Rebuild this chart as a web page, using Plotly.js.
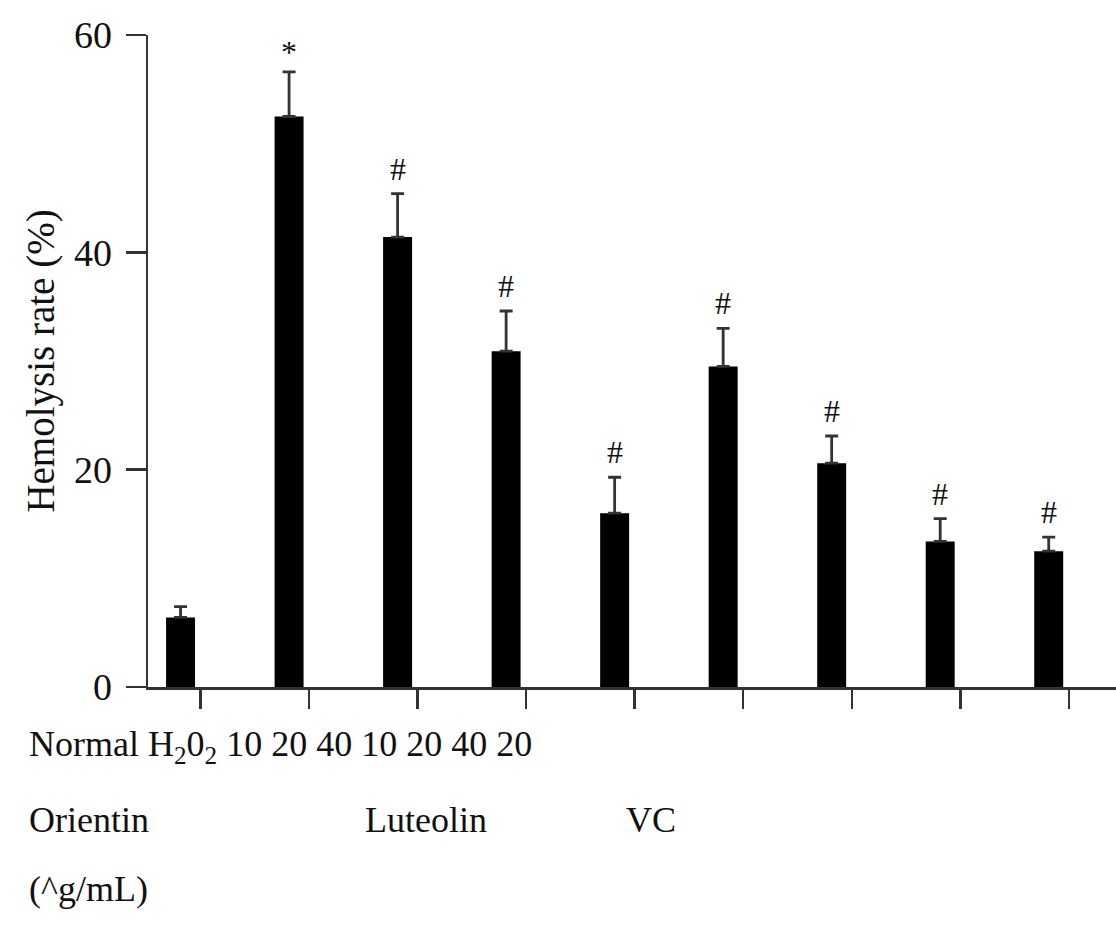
<!DOCTYPE html>
<html>
<head>
<meta charset="utf-8">
<script src="https://cdn.plot.ly/plotly-3.0.1.min.js"></script>
<style>html,body{margin:0;padding:0;background:#fff;}#chart{width:1116px;height:934px;}</style>
</head>
<body>
<div id="chart"></div>
<script>
// Data
const categories = ["Normal", "H2O2", "Orientin 10", "Orientin 20", "Orientin 40", "Luteolin 10", "Luteolin 20", "Luteolin 40", "VC 20"];
const hemolysis = [6.4, 52.5, 41.4, 30.9, 16.0, 29.5, 20.6, 13.4, 12.5];
const errorUpper = [1.0, 4.1, 4.0, 3.7, 3.3, 3.5, 2.5, 2.1, 1.3];
const significance = ["", "*", "#", "#", "#", "#", "#", "#", "#"];
const yTicks = [0, 20, 40, 60];
const labelLine1 = "Normal H<sub>2</sub>0<sub>2</sub> 10 20 40 10 20 40 20";
const groupLabels = ["Orientin", "Luteolin", "VC"];
const unitLabel = "(^g/mL)";

const FONT = "Liberation Serif, Times New Roman, serif";
const AXC = "#333333";

const xIdx = categories.map((c, i) => i);
const tickOffset = 0.185;

const trace = {
  type: "bar",
  x: xIdx,
  y: hemolysis,
  text: categories,
  hoverinfo: "text+y",
  textposition: "none",
  width: 0.267,
  marker: {color: "#000000", line: {width: 0}},
  error_y: {
    type: "data",
    symmetric: false,
    array: errorUpper,
    arrayminus: errorUpper.map(() => 0),
    color: AXC,
    thickness: 2.8,
    width: 6.5
  }
};

const annotations = [];
categories.forEach((c, i) => {
  if (significance[i]) {
    annotations.push({
      x: xIdx[i], y: hemolysis[i] + errorUpper[i],
      xref: "x", yref: "y",
      text: significance[i],
      showarrow: false,
      yanchor: "bottom",
      yshift: significance[i] === "*" ? 0 : 5,
      font: {family: FONT, size: 32, color: "#111"}
    });
  }
});

// Text lines below the axis
annotations.push({
  xref: "paper", yref: "paper", x: -0.125, y: -0.091,
  xanchor: "left", yanchor: "middle", showarrow: false,
  text: labelLine1, font: {family: FONT, size: 36, color: "#111"}
});
const groupX = [-0.125, 0.2221, 0.4918];
groupLabels.forEach((g, i) => {
  annotations.push({
    xref: "paper", yref: "paper", x: groupX[i], y: -0.2045,
    xanchor: "left", yanchor: "middle", showarrow: false,
    text: g, font: {family: FONT, size: 36, color: "#111"}
  });
});
annotations.push({
  xref: "paper", yref: "paper", x: -0.125, y: -0.3098,
  xanchor: "left", yanchor: "middle", showarrow: false,
  text: unitLabel, font: {family: FONT, size: 36, color: "#111"}
});

const layout = {
  width: 1116,
  height: 934,
  margin: {l: 148, r: 0, t: 35, b: 247, pad: 0},
  paper_bgcolor: "#ffffff",
  plot_bgcolor: "#ffffff",
  showlegend: false,
  font: {family: FONT, color: "#111"},
  xaxis: {
    type: "linear",
    range: [-0.3, 8.62],
    tickmode: "array",
    tickvals: xIdx.map(i => i + tickOffset),
    showticklabels: false,
    ticks: "outside",
    ticklen: 19,
    tickwidth: 2.5,
    tickcolor: AXC,
    showline: true,
    linecolor: AXC,
    linewidth: 2.5,
    showgrid: false,
    zeroline: false,
    fixedrange: true
  },
  yaxis: {
    range: [0, 60],
    tickmode: "array",
    tickvals: yTicks,
    ticktext: yTicks.map(String),
    ticks: "outside",
    ticklen: 20,
    tickwidth: 2.5,
    tickcolor: AXC,
    ticklabelstandoff: 6,
    tickfont: {family: FONT, size: 38, color: "#111"},
    showline: true,
    linecolor: AXC,
    linewidth: 2.5,
    showgrid: false,
    zeroline: false,
    title: {text: "Hemolysis rate (%)", font: {family: FONT, size: 39, color: "#111"}, standoff: 8},
    fixedrange: true
  },
  annotations: annotations
};

Plotly.newPlot("chart", [trace], layout, {displayModeBar: false, staticPlot: true});
</script>
</body>
</html>
